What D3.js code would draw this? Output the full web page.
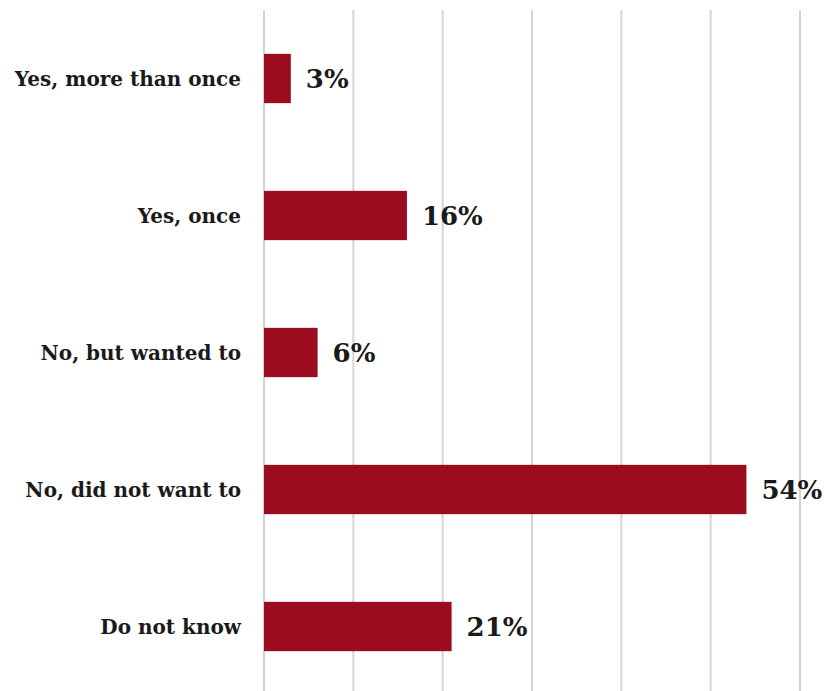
<html>
 <head>
  <script src="https://d3js.org/d3.v7.min.js"></script>
  <style>
   body{margin:0;background:#fff;}
  </style>
 </head>
 <body>
  <svg></svg>
  <script>
   var svgWidth=824,svgHeight=691;
   var categories=["Yes, more than once","Yes, once","No, but wanted to","No, did not want to","Do not know"];
   var values=[3,16,6,54,21];
   var ticks=[0,10,20,30,40,50,60];

   var svg=d3.select("svg").attr("width",svgWidth).attr("height",svgHeight);

   var x=d3.scaleLinear().domain([0,60]).range([264,800]);
   var y=d3.scaleBand().domain(categories).range([10,695]).paddingInner(0.64).paddingOuter(0.32);

   // gridlines
   svg.append("g").selectAll("line").data(ticks).enter().append("line")
      .attr("x1",function(d){return x(d);}).attr("x2",function(d){return x(d);})
      .attr("y1",10).attr("y2",svgHeight)
      .attr("stroke","#d4d4d4").attr("stroke-width",2);

   // bars
   svg.append("g").selectAll("rect").data(values).enter().append("rect")
      .attr("x",x(0))
      .attr("y",function(d,i){return y(categories[i]);})
      .attr("width",function(d){return x(d)-x(0);})
      .attr("height",y.bandwidth())
      .attr("fill","#9b0c1e");

   // value labels
   svg.append("g").selectAll("text").data(values).enter().append("text")
      .attr("x",function(d){return x(d)+15;})
      .attr("y",function(d,i){return y(categories[i])+y.bandwidth()/2;})
      .attr("dy","0.36em")
      .style("font-family","'DejaVu Serif'")
      .style("font-weight","bold")
      .style("font-size","26px")
      .attr("fill","#1a1a1a")
      .text(function(d){return d+"%";});

   // category labels
   svg.append("g").selectAll("text").data(categories).enter().append("text")
      .attr("x",241)
      .attr("y",function(d){return y(d)+y.bandwidth()/2;})
      .attr("dy","0.36em")
      .attr("text-anchor","end")
      .style("font-family","'DejaVu Serif'")
      .style("font-weight","bold")
      .style("font-size","20px")
      .attr("fill","#1a1a1a")
      .text(function(d){return d;});
  </script>
 </body>
</html>
